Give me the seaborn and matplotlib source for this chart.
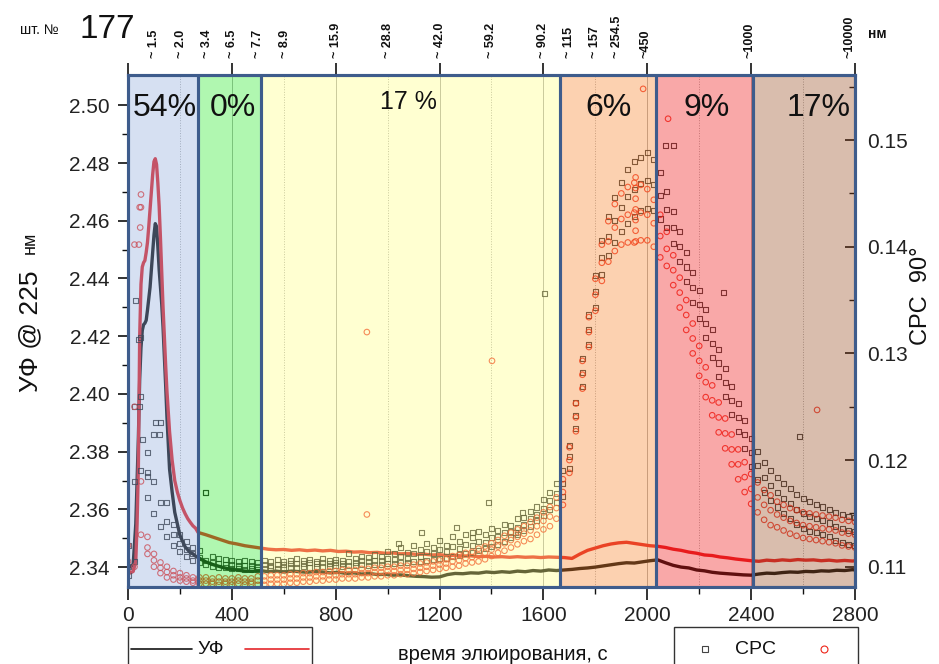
import matplotlib
matplotlib.use('Agg')
import matplotlib.pyplot as plt
from matplotlib.patches import Rectangle
from matplotlib.lines import Line2D
import seaborn as sns

# UV 225 nm traces (left axis): dense part around the first peak, then the long tail
uv_x_head = [0, 10, 20, 30, 35, 40, 45, 50, 55, 60, 65, 70, 75, 80, 85, 90, 95, 100, 105, 110,
             115, 120, 125, 130, 135, 140, 145, 150, 160, 170, 180, 190, 200, 210, 220, 230, 240, 250, 260]
uv_black_head = [2.3405, 2.3400, 2.3410, 2.3550, 2.3700, 2.3850, 2.4050, 2.4160, 2.4220, 2.4240,
                 2.4245, 2.4255, 2.4290, 2.4330, 2.4370, 2.4430, 2.4490, 2.4550, 2.4590, 2.4580,
                 2.4510, 2.4430, 2.4370, 2.4310, 2.4230, 2.4130, 2.4030, 2.3920, 2.3740, 2.3660,
                 2.3590, 2.3550, 2.3510, 2.3490, 2.3470, 2.3460, 2.3450, 2.3446, 2.3438]
uv_red_head = [2.3385, 2.3380, 2.3385, 2.3420, 2.3550, 2.3750, 2.4200, 2.4380, 2.4440, 2.4455,
               2.4462, 2.4490, 2.4525, 2.4580, 2.4640, 2.4700, 2.4760, 2.4805, 2.4815, 2.4795,
               2.4730, 2.4650, 2.4540, 2.4420, 2.4300, 2.4200, 2.4100, 2.4010, 2.3870, 2.3770,
               2.3700, 2.3660, 2.3630, 2.3605, 2.3585, 2.3568, 2.3555, 2.3543, 2.3535]

uv_x_tail = list(range(270, 2791, 30)) + [2800]
uv_black_tail = [2.3433, 2.3418, 2.3408, 2.3400, 2.3393, 2.3390, 2.3386, 2.3385, 2.3388, 2.3384,
                 2.3386, 2.3383, 2.3386, 2.3384, 2.3382, 2.3385, 2.3383, 2.3380, 2.3382, 2.3378,
                 2.3380, 2.3376, 2.3378, 2.3374, 2.3375, 2.3372, 2.3373, 2.3370, 2.3368, 2.3367,
                 2.3365, 2.3366, 2.3374, 2.3378, 2.3377, 2.3380, 2.3379, 2.3383, 2.3381, 2.3384,
                 2.3382, 2.3386, 2.3384, 2.3388, 2.3386, 2.3390, 2.3388, 2.3390, 2.3392, 2.3395,
                 2.3397, 2.3400, 2.3404, 2.3408, 2.3412, 2.3415, 2.3414, 2.3418, 2.3422, 2.3425,
                 2.3415, 2.3406, 2.3400, 2.3397, 2.3390, 2.3387, 2.3382, 2.3379, 2.3377, 2.3375,
                 2.3373, 2.3372, 2.3376, 2.3379, 2.3378, 2.3381, 2.3383, 2.3382, 2.3385, 2.3384,
                 2.3387, 2.3386, 2.3389, 2.3388, 2.3391, 2.3390]
uv_red_tail = [2.3520, 2.3512, 2.3503, 2.3494, 2.3485, 2.3480, 2.3474, 2.3470, 2.3466, 2.3462,
               2.3460, 2.3461, 2.3458, 2.3460, 2.3457, 2.3459, 2.3456, 2.3458, 2.3454, 2.3455,
               2.3452, 2.3453, 2.3450, 2.3451, 2.3448, 2.3449, 2.3446, 2.3447, 2.3444, 2.3445,
               2.3442, 2.3443, 2.3440, 2.3441, 2.3438, 2.3439, 2.3436, 2.3437, 2.3435, 2.3436,
               2.3434, 2.3436, 2.3434, 2.3435, 2.3433, 2.3435, 2.3434, 2.3433, 2.3430, 2.3445,
               2.3458, 2.3466, 2.3474, 2.3480, 2.3484, 2.3486, 2.3482, 2.3478, 2.3474, 2.3472,
               2.3468, 2.3462, 2.3458, 2.3452, 2.3448, 2.3442, 2.3440, 2.3435, 2.3432, 2.3428,
               2.3425, 2.3422, 2.3420, 2.3424, 2.3422, 2.3425, 2.3423, 2.3426, 2.3424, 2.3425,
               2.3422, 2.3424, 2.3421, 2.3423, 2.3421, 2.3422]

# CPC 90 deg light scattering (right axis): upper edge, middle and lower edge of each point cloud
cpc_x = list(range(0, 2801, 25))
cpc_black_hi = [.1120, .1250, .1315, .1207, .1224, .1235, .1160, .1140, .1130, .1124,
                .1118, .1115, .1170, .1110, .1108, .1107, .1106, .1105, .1106, .1105,
                .1104, .1106, .1105, .1107, .1105, .1106, .1108, .1106, .1107, .1105,
                .1108, .1106, .1107, .1106, .1112, .1108, .1110, .1109, .1111, .1110,
                .1114, .1112, .1118, .1113, .1120, .1116, .1122, .1118, .1125, .1120,
                .1128, .1124, .1130, .1127, .1133, .1130, .1136, .1134, .1140, .1139,
                .1145, .1146, .1152, .1156, .1163, .1170, .1178, .1190, .1214, .1254,
                .1295, .1336, .1373, .1406, .1428, .1446, .1460, .1472, .1480, .1484,
                .1488, .1482, .1470, .1452, .1433, .1414, .1395, .1376, .1359, .1341,
                .1322, .1304, .1286, .1269, .1253, .1237, .1220, .1208, .1198, .1190,
                .1184, .1178, .1173, .1168, .1164, .1161, .1158, .1156, .1154, .1151,
                .1149, .1147, .1146]
cpc_black_mid = [.1100, .1180, .1260, .1185, .1180, .1160, .1142, .1130, .1122, .1116,
                 .1112, .1109, .1106, .1104, .1103, .1102, .1102, .1101, .1101, .1101,
                 .1100, .1102, .1101, .1102, .1102, .1103, .1103, .1103, .1104, .1103,
                 .1104, .1103, .1104, .1103, .1105, .1104, .1106, .1105, .1106, .1106,
                 .1108, .1107, .1110, .1108, .1112, .1110, .1114, .1112, .1116, .1114,
                 .1119, .1117, .1121, .1120, .1124, .1123, .1127, .1128, .1132, .1133,
                 .1137, .1140, .1145, .1149, .1155, .1162, .1169, .1178, .1203, .1242,
                 .1282, .1322, .1358, .1390, .1410, .1425, .1437, .1447, .1454, .1459,
                 .1462, .1458, .1448, .1435, .1418, .1400, .1381, .1362, .1346, .1328,
                 .1309, .1291, .1273, .1256, .1240, .1224, .1207, .1195, .1184, .1176,
                 .1170, .1164, .1159, .1154, .1150, .1147, .1145, .1143, .1141, .1138,
                 .1136, .1134, .1133]
cpc_black_lo = [.1092, .1105, .1190, .1165, .1150, .1138, .1128, .1120, .1114, .1110,
                .1106, .1104, .1102, .1100, .1099, .1099, .1098, .1098, .1097, .1098,
                .1097, .1098, .1099, .1098, .1099, .1099, .1099, .1100, .1099, .1100,
                .1100, .1100, .1101, .1100, .1101, .1101, .1102, .1101, .1102, .1102,
                .1103, .1103, .1104, .1104, .1105, .1105, .1106, .1107, .1108, .1108,
                .1110, .1111, .1112, .1113, .1115, .1117, .1119, .1121, .1124, .1127,
                .1130, .1134, .1138, .1143, .1148, .1154, .1160, .1166, .1192, .1230,
                .1269, .1308, .1343, .1374, .1392, .1404, .1414, .1422, .1428, .1434,
                .1436, .1434, .1426, .1418, .1403, .1386, .1367, .1348, .1333, .1315,
                .1296, .1278, .1260, .1243, .1227, .1211, .1194, .1182, .1170, .1162,
                .1156, .1150, .1145, .1140, .1136, .1133, .1132, .1130, .1128, .1125,
                .1123, .1121, .1120]
cpc_red_hi = [.1120, .1402, .1437, .1128, .1112, .1104, .1100, .1096, .1094, .1092,
              .1090, .1090, .1090, .1089, .1090, .1089, .1089, .1090, .1089, .1089,
              .1091, .1091, .1092, .1092, .1092, .1093, .1093, .1094, .1094, .1095,
              .1095, .1096, .1096, .1097, .1097, .1097, .1098, .1098, .1099, .1099,
              .1100, .1100, .1101, .1101, .1102, .1103, .1104, .1105, .1106, .1107,
              .1110, .1111, .1113, .1114, .1117, .1119, .1122, .1125, .1129, .1132,
              .1135, .1138, .1142, .1146, .1151, .1156, .1165, .1182, .1212, .1253,
              .1293, .1334, .1370, .1402, .1424, .1440, .1450, .1456, .1460, .1458,
              .1454, .1444, .1430, .1414, .1392, .1371, .1350, .1328, .1307, .1287,
              .1270, .1254, .1239, .1224, .1210, .1198, .1187, .1179, .1172, .1167,
              .1161, .1158, .1155, .1153, .1151, .1150, .1149, .1148, .1147, .1146,
              .1144, .1143, .1142]
cpc_red_mid = [.1105, .1250, .1180, .1118, .1106, .1099, .1095, .1092, .1090, .1089,
               .1087, .1087, .1087, .1086, .1086, .1086, .1086, .1087, .1086, .1086,
               .1087, .1087, .1088, .1088, .1088, .1089, .1089, .1090, .1090, .1091,
               .1091, .1092, .1092, .1093, .1093, .1093, .1094, .1094, .1095, .1095,
               .1096, .1096, .1097, .1097, .1098, .1099, .1100, .1101, .1102, .1103,
               .1105, .1106, .1108, .1109, .1111, .1113, .1116, .1119, .1122, .1125,
               .1128, .1131, .1134, .1138, .1143, .1147, .1155, .1170, .1200, .1240,
               .1280, .1320, .1355, .1385, .1405, .1418, .1426, .1430, .1432, .1432,
               .1430, .1422, .1410, .1398, .1378, .1357, .1336, .1314, .1293, .1273,
               .1256, .1240, .1225, .1210, .1196, .1184, .1173, .1165, .1158, .1153,
               .1149, .1146, .1143, .1141, .1139, .1138, .1137, .1136, .1135, .1134,
               .1132, .1131, .1130]
cpc_red_lo = [.1095, .1100, .1130, .1112, .1100, .1094, .1090, .1088, .1087, .1086,
              .1085, .1084, .1084, .1084, .1083, .1084, .1083, .1084, .1083, .1084,
              .1083, .1083, .1084, .1084, .1084, .1085, .1085, .1086, .1086, .1087,
              .1087, .1088, .1088, .1089, .1089, .1089, .1090, .1090, .1091, .1091,
              .1092, .1092, .1093, .1093, .1094, .1095, .1096, .1097, .1098, .1099,
              .1100, .1101, .1103, .1104, .1105, .1107, .1110, .1113, .1115, .1118,
              .1121, .1124, .1126, .1130, .1135, .1138, .1145, .1158, .1188, .1227,
              .1267, .1306, .1340, .1368, .1386, .1396, .1402, .1404, .1404, .1406,
              .1406, .1400, .1390, .1382, .1364, .1343, .1322, .1300, .1279, .1259,
              .1242, .1226, .1211, .1196, .1182, .1170, .1159, .1151, .1144, .1139,
              .1137, .1134, .1131, .1129, .1127, .1126, .1125, .1124, .1123, .1122,
              .1120, .1119, .1118]

# stray points outside the clouds
cpc_black_out_x = [28, 40, 46, 55, 75, 105, 120, 297, 1040, 1132, 1267, 1325, 1387, 1491, 1518, 1606, 2069, 2100, 2292, 2588]
cpc_black_out_y = [0.1350, 0.1313, 0.1250, 0.1219, 0.1188, 0.1235, 0.1224, 0.1170, 0.1122, 0.1132,
                   0.1137, 0.1132, 0.1160, 0.1132, 0.1151, 0.1356, 0.1495, 0.1495, 0.1357, 0.1222]
cpc_red_out_x = [50, 45, 47, 42, 920, 920, 1402, 1955, 1955, 1955, 1955, 1955, 1955, 1955, 1984, 2654, 2080]
cpc_red_out_y = [0.1449, 0.1437, 0.1418, 0.1402, 0.1320, 0.1149, 0.1293, 0.1465, 0.1455, 0.1445,
                 0.1435, 0.1425, 0.1415, 0.1405, 0.1548, 0.1247, 0.1520]

# fractions
region_edges = [0, 268, 512, 1664, 2034, 2408, 2800]
region_colors = ['#8aa8db', '#1de91d', '#ffff7c', '#f87c1d', '#f00707', '#924216']
region_labels = ['54%', '0%', '17 %', '6%', '9%', '17%']
region_label_x = [143, 404, 1079, 1849, 2230, 2658]

# particle sizes on the top axis
size_pos = [100, 205, 305, 400, 500, 605, 800, 1000, 1200, 1400, 1600, 1700, 1800, 1885, 1995, 2395, 2780]
size_labels = ['~ 1.5', '~ 2.0', '~ 3.4', '~ 6.5', '~ 7.7', '~ 8.9', '~ 15.9', '~ 28.8', '~ 42.0',
               '~ 59.2', '~ 90.2', '~ 115', '~ 157', '~ 254.5', '~450', '~1000', '~10000']

uv_x = uv_x_head + uv_x_tail
uv_black = uv_black_head + uv_black_tail
uv_red = uv_red_head + uv_red_tail

sns.set_theme(style='ticks')
plt.rcParams['font.family'] = ['Liberation Sans', 'DejaVu Sans']

W, H = 939, 664
fig = plt.figure(figsize=(W / 100, H / 100), dpi=100)
ax = fig.add_axes([128 / W, 1 - 587 / H, 727 / W, 512 / H])
ax.set_facecolor('white')

# faint vertical grid
for xv in range(200, 2800, 200):
    ax.axvline(xv, color='#8c8c8c', lw=0.7, alpha=0.7, ls='-' if xv % 400 == 0 else ':', zorder=0)

sns.lineplot(x=uv_x, y=uv_black, ax=ax, color='#141414', lw=2.4, estimator=None, sort=False, zorder=2)
sns.lineplot(x=uv_x, y=uv_red, ax=ax, color='#e4262a', lw=2.4, estimator=None, sort=False, zorder=2)

ax2 = ax.twinx()


def cloud(xs, ys, marker, size, color):
    sns.scatterplot(x=xs, y=ys, ax=ax2, marker=marker, s=size, color=color,
                    edgecolor=color, linewidth=0.8, alpha=0.8, zorder=2, legend=False)
    coll = ax2.collections[-1]
    coll.set_facecolor('none')
    coll.set_edgecolor(color)


for ys in (cpc_black_hi, cpc_black_mid, cpc_black_lo):
    cloud(cpc_x, ys, 's', 13, '#1a1a1a')
cloud(cpc_black_out_x, cpc_black_out_y, 's', 13, '#1a1a1a')
for ys in (cpc_red_hi, cpc_red_mid, cpc_red_lo):
    cloud(cpc_x, ys, 'o', 16, '#ee2418')
cloud(cpc_red_out_x, cpc_red_out_y, 'o', 16, '#ee2418')

# coloured fractions drawn over the data, as in the original
for i in range(len(region_labels)):
    x0, x1 = region_edges[i], region_edges[i + 1]
    ax2.axvspan(x0, x1, color=region_colors[i], alpha=0.35, lw=0, zorder=3)
    ax2.axvspan(x0, x1, facecolor='none', edgecolor='#3e5c8c', lw=2.2, zorder=5)
    big = region_labels[i] != '17 %'
    ax2.text(region_label_x[i], 0.935 if big else 0.947, region_labels[i],
             transform=ax2.get_xaxis_transform(), ha='center', va='center',
             fontsize=23 if big else 18, color='#111', zorder=6)

ax.set_xlim(0, 2800)
ax.set_ylim(2.3331, 2.5105)
ax2.set_ylim(0.1081, 0.1561)

ax.set_xticks(range(0, 2801, 400))
ax.set_xticks(range(200, 2800, 400), minor=True)
ax.set_yticks([2.34, 2.36, 2.38, 2.40, 2.42, 2.44, 2.46, 2.48, 2.50])
ax.set_yticklabels(['2.34', '2.36', '2.38', '2.40', '2.42', '2.44', '2.46', '2.48', '2.50'])
ax.set_yticks([2.35, 2.37, 2.39, 2.41, 2.43, 2.45, 2.47, 2.49], minor=True)
ax2.set_yticks([0.11, 0.12, 0.13, 0.14, 0.15])
ax2.set_yticklabels(['0.11', '0.12', '0.13', '0.14', '0.15'])
ax2.set_yticks([0.115, 0.125, 0.135, 0.145, 0.155], minor=True)

ax.tick_params(axis='x', which='major', bottom=True, top=True, direction='out', length=9, width=1.2,
               color='#111', labelsize=15, labelcolor='#222', pad=5)
ax.tick_params(axis='x', which='minor', bottom=True, top=False, direction='out', length=5, width=1.0, color='#111')
ax.tick_params(axis='y', which='major', left=True, direction='out', length=7, width=1.2,
               color='#111', labelsize=15, labelcolor='#222', pad=6)
ax.tick_params(axis='y', which='minor', left=True, direction='out', length=4, width=1.0, color='#111')
ax2.tick_params(axis='y', which='major', right=True, direction='in', length=7, width=1.2,
                color='#111', labelsize=15, labelcolor='#222', pad=9)
ax2.tick_params(axis='y', which='minor', right=True, direction='in', length=4, width=1.0, color='#111')
ax.set_xlabel('')
ax.set_ylabel('')
ax2.set_ylabel('')

for a in (ax, ax2):
    for sp in a.spines.values():
        sp.set_color('#3e5c8c')
        sp.set_linewidth(2.2)
        sp.set_visible(True)

# particle sizes along the top
for pos, lab in zip(size_pos, size_labels):
    ax.text(pos, 1.033, lab, transform=ax.get_xaxis_transform(), rotation=90,
            ha='center', va='bottom', fontsize=9, fontweight='bold', color='#111')
fig.text(868 / W, 1 - 34 / H, 'нм', fontsize=10, fontweight='bold', va='center', color='#111')
fig.text(20 / W, 1 - 30 / H, 'шт. №', fontsize=10, va='center', color='#111')
fig.text(80 / W, 1 - 29 / H, '177', fontsize=24, va='center', color='#111')

# axis titles
fig.text(30 / W, 1 - 392 / H, 'УФ @ 225', rotation=90, rotation_mode='anchor',
         ha='left', va='center', fontsize=19, color='#111')
fig.text(30 / W, 1 - 254 / H, 'нм', rotation=90, rotation_mode='anchor',
         ha='left', va='center', fontsize=13, color='#111')
fig.text(921 / W, 1 - 345 / H, 'CPC  90°', rotation=90, rotation_mode='anchor',
         ha='left', va='center', fontsize=17, color='#111')
fig.text(503 / W, 1 - 655 / H, 'время элюирования, с', ha='center', va='center', fontsize=14.5, color='#111')

# legend boxes at the bottom
ly = 1 - 649 / H
fig.add_artist(Rectangle((128 / W, -0.02), 184 / W, (664 - 627) / H + 0.02, transform=fig.transFigure,
                         fill=False, ec='#333', lw=1.0))
fig.add_artist(Line2D([131 / W, 192 / W], [ly, ly], transform=fig.transFigure, color='#141414', lw=1.2))
fig.text(197 / W, ly, 'УФ', fontsize=14, va='center', color='#111')
fig.add_artist(Line2D([245 / W, 309 / W], [ly, ly], transform=fig.transFigure, color='#e4262a', lw=1.2))
fig.add_artist(Rectangle((674 / W, -0.02), 184 / W, (664 - 627) / H + 0.02, transform=fig.transFigure,
                         fill=False, ec='#333', lw=1.0))
fig.add_artist(Line2D([705 / W], [ly], transform=fig.transFigure, marker='s', ms=5, mfc='none',
                      mec='#444', mew=0.8, ls='none'))
fig.text(735 / W, ly, 'CPC', fontsize=14, va='center', color='#111')
fig.add_artist(Line2D([824 / W], [ly], transform=fig.transFigure, marker='o', ms=5, mfc='none',
                      mec='#ee2418', mew=0.8, ls='none'))

fig.savefig('out.png', dpi=100)
